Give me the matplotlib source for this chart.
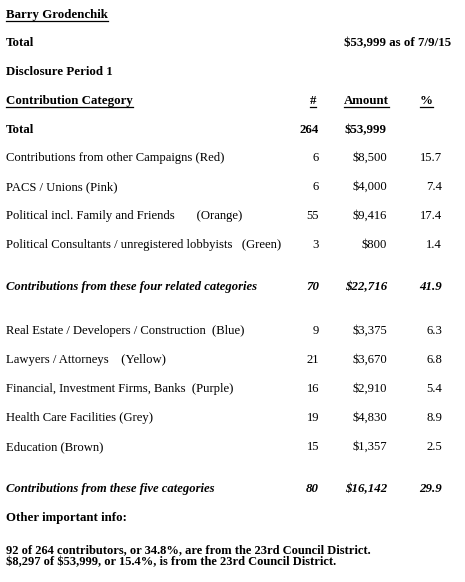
import matplotlib
matplotlib.use("Agg")
import matplotlib.pyplot as plt

plt.rcParams['font.family'] = ['Liberation Serif', 'DejaVu Serif']
plt.rcParams['text.parse_math'] = False

candidate = "Barry Grodenchik"
total_line = "$53,999 as of 7/9/15"
period = "Disclosure Period 1"
headers = ["Contribution Category", "#", "Amount", "%"]
total_count = 264
total_amount = "$53,999"

group1 = ["Contributions from other Campaigns (Red)",
          "PACS / Unions (Pink)",
          "Political incl. Family and Friends       (Orange)",
          "Political Consultants / unregistered lobbyists   (Green)"]
group1_counts = [6, 6, 55, 3]
group1_amounts = ["$8,500", "$4,000", "$9,416", "$800"]
group1_pcts = ["15.7", "7.4", "17.4", "1.4"]
group1_sub = ("Contributions from these four related categories", 70, "$22,716", "41.9")

group2 = ["Real Estate / Developers / Construction  (Blue)",
          "Lawyers / Attorneys    (Yellow)",
          "Financial, Investment Firms, Banks  (Purple)",
          "Health Care Facilities (Grey)",
          "Education (Brown)"]
group2_counts = [9, 21, 16, 19, 15]
group2_amounts = ["$3,375", "$3,670", "$2,910", "$4,830", "$1,357"]
group2_pcts = ["6.3", "6.8", "5.4", "8.9", "2.5"]
group2_sub = ("Contributions from these five categories", 80, "$16,142", "29.9")

other_title = "Other important info:"
other_lines = ["92 of 264 contributors, or 34.8%, are from the 23rd Council District.",
               "$8,297 of $53,999, or 15.4%, is from the 23rd Council District."]

W, H = 465, 582
fig = plt.figure(figsize=(W / 100, H / 100), dpi=100)
ax = fig.add_axes([0, 0, 1, 1])
ax.set_xlim(0, W)
ax.set_ylim(H, 0)
ax.axis('off')

FS = 9.1
FS_B = 9.3
X0 = 6
X_CNT = 319
X_AMT = 387
X_PCT = 442
X_AMT_L = 344

underlined = []

def put(x, y, s, ha='left', weight='normal', style='normal', underline=False, size=None):
    if size is None:
        size = FS_B if weight == 'bold' else FS
    t = ax.text(x, y, s, ha=ha, va='center', fontsize=size, fontweight=weight,
                fontstyle=style)
    if underline:
        underlined.append(t)
    return t

put(X0, 15, candidate, weight='bold', underline=True)
put(X0, 43, "Total", weight='bold')
put(X_AMT_L, 43, total_line, weight='bold')
put(X0, 72, period, weight='bold')

put(X0, 101, headers[0], weight='bold', underline=True)
put(X_CNT - 6, 101, headers[1], ha='center', weight='bold', underline=True)
put(X_AMT_L, 101, headers[2], weight='bold', underline=True)
put(X_PCT - 16, 101, headers[3], ha='center', weight='bold', underline=True)

put(X0, 130, "Total", weight='bold')
put(X_CNT, 130, str(total_count), ha='right', weight='bold')
put(X_AMT_L, 130, total_amount, weight='bold')

def group(names, counts, amounts, pcts, sub, y_start):
    y = y_start
    for n, c, a, p in zip(names, counts, amounts, pcts):
        put(X0, y, n)
        put(X_CNT, y, str(c), ha='right')
        put(X_AMT, y, a, ha='right')
        put(X_PCT, y, p, ha='right')
        y += 29
    y += 13
    put(X0, y, sub[0], weight='bold', style='italic', size=9.1)
    put(X_CNT, y, str(sub[1]), ha='right', weight='bold', style='italic')
    put(X_AMT, y, sub[2], ha='right', weight='bold', style='italic')
    put(X_PCT, y, sub[3], ha='right', weight='bold', style='italic')
    return y

y_end = group(group1, group1_counts, group1_amounts, group1_pcts, group1_sub, 158)
y_end = group(group2, group2_counts, group2_amounts, group2_pcts, group2_sub, y_end + 44)

put(X0, y_end + 29, other_title, weight='bold')
put(X0, y_end + 61, other_lines[0], weight='bold', size=9.0)
put(X0, y_end + 73, other_lines[1], weight='bold', size=9.0)

# underline text by measuring its extent
fig.canvas.draw()
r = fig.canvas.get_renderer()
inv = ax.transData.inverted()
for t in underlined:
    bb = t.get_window_extent(r)
    (x1, y1), (x2, y2) = inv.transform([[bb.x0, bb.y0], [bb.x1, bb.y1]])
    yb = max(y1, y2) - 0.5
    ax.plot([x1, x2], [yb, yb], color='black', lw=0.9)

fig.savefig("out.png", dpi=100)
